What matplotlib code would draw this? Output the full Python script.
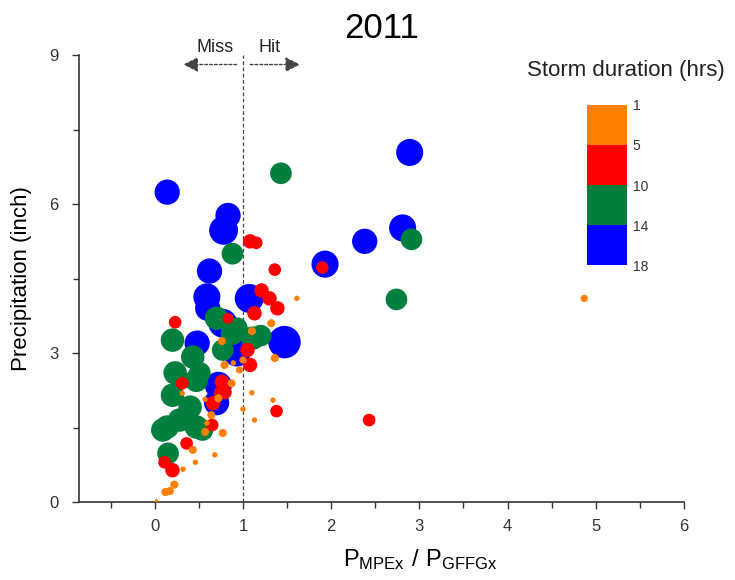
import matplotlib
matplotlib.use("Agg")
import matplotlib.pyplot as plt
import numpy as np
from matplotlib.colors import ListedColormap, BoundaryNorm

plt.rcParams["font.family"] = ["Liberation Sans", "DejaVu Sans"]

# Storm events: ratio P_MPEx / P_GFFGx, precipitation (inch), duration (hrs)
blue_x = [0.14, 2.89, 2.81, 2.38, 1.93, 0.83, 0.78, 0.62, 0.59, 0.60, 1.07,
          0.77, 0.48, 0.93, 0.70, 0.72, 1.47]
blue_y = [6.24, 7.04, 5.52, 5.25, 4.79, 5.77, 5.47, 4.65, 4.13, 3.90, 4.10,
          3.60, 3.20, 3.00, 2.00, 2.35, 3.22]
blue_d = [14, 15, 15, 14, 15, 14, 16, 14, 15, 14, 16, 16, 14, 15, 14, 15, 18]

green_x = [1.43, 2.91, 2.74, 0.88, 0.20, 0.70, 0.88, 1.11, 0.77, 0.93, 0.43,
           0.23, 0.47, 0.51, 0.20, 0.40, 0.14, 0.28, 0.47, 0.54, 0.09, 0.15,
           1.20]
green_y = [6.62, 5.29, 4.08, 5.00, 3.26, 3.70, 3.40, 3.30, 3.06, 3.50, 2.92,
           2.60, 2.45, 2.60, 2.15, 1.91, 1.51, 1.65, 1.51, 1.45, 1.45, 0.98,
           3.35]
green_d = [12, 12, 12, 12, 13, 13, 13, 13, 12, 12, 13, 13, 13, 12, 13, 13, 13,
           13, 13, 12, 13, 12, 12]

red_x = [1.08, 1.15, 1.36, 1.90, 1.21, 1.30, 1.39, 1.13, 0.83, 1.05, 1.08,
         0.76, 0.79, 0.66, 0.65, 1.38, 2.43, 0.23, 0.31, 0.36, 0.11, 0.20,
         0.74]
red_y = [5.25, 5.22, 4.68, 4.72, 4.26, 4.10, 3.90, 3.80, 3.70, 3.06, 2.76,
         2.42, 2.21, 1.99, 1.55, 1.83, 1.65, 3.62, 2.39, 1.18, 0.80, 0.64,
         2.20]
red_d = [8, 7, 7, 7, 8, 8, 8, 8, 6, 8, 8, 8, 8, 8, 7, 7, 7, 7, 7, 7, 7, 8, 7]

orange_x = [4.87, 1.61, 1.32, 1.10, 0.76, 1.36, 1.00, 0.89, 0.79, 0.96, 1.10,
            1.34, 1.00, 1.13, 0.87, 0.72, 0.57, 0.64, 0.59, 0.57, 0.77, 0.43,
            0.68, 0.46, 0.32, 0.22, 0.17, 0.12, 0.02, 0.31]
orange_y = [4.10, 4.10, 3.60, 3.44, 3.24, 2.90, 2.86, 2.80, 2.76, 2.66, 2.20,
            2.05, 1.87, 1.65, 2.39, 2.09, 2.07, 1.75, 1.59, 1.41, 1.39, 1.05,
            0.95, 0.80, 0.66, 0.35, 0.22, 0.20, 0.02, 2.19]
orange_d = [4, 3, 4.5, 4.5, 4.5, 4.5, 4, 3, 4.5, 4, 3, 3, 3, 3, 4.5, 4.5, 3,
            4.5, 3, 4.5, 4.5, 4.5, 3, 3, 3, 4.5, 4.5, 4.5, 2, 3]

duration_bounds = [1, 5, 10, 14, 18]
duration_colors = ["#FF8000", "#FF0000", "#007F3F", "#0000FF"]

cmap = ListedColormap(duration_colors)
norm = BoundaryNorm(duration_bounds, cmap.N)

fig = plt.figure(figsize=(7.35, 5.8), dpi=100)
ax = fig.add_axes([0.1075, 0.1345, 0.823, 0.7705])

x = np.array(blue_x + green_x + red_x + orange_x)
y = np.array(blue_y + green_y + red_y + orange_y)
d = np.array(blue_d + green_d + red_d + orange_d, dtype=float)
size = (1.3 * d) ** 2

sc = ax.scatter(x, y, s=size, c=d, cmap=cmap, norm=norm, edgecolors="none",
                zorder=3)

# Miss / Hit divider
ax.axvline(1, color="#444444", lw=0.9, ls=(0, (3, 2)), zorder=2)
arrow_kw = dict(arrowstyle="-|>,head_length=0.9,head_width=0.45",
                color="#444444", lw=1.0, ls=(0, (2, 1.5)))
ax.annotate("", xy=(0.29, 8.81), xytext=(0.96, 8.81), arrowprops=arrow_kw)
ax.annotate("", xy=(1.68, 8.81), xytext=(1.05, 8.81), arrowprops=arrow_kw)
ax.text(0.68, 8.98, "Miss", ha="center", va="bottom", fontsize=13,
        color="#222222")
ax.text(1.30, 8.98, "Hit", ha="center", va="bottom", fontsize=13,
        color="#222222")

ax.set_xlim(-0.86, 6)
ax.set_ylim(0, 9)
ax.set_xticks(range(0, 7))
ax.set_xticks(np.arange(-0.5, 6, 1), minor=True)
ax.set_yticks([0, 3, 6, 9])
ax.set_yticks([1.5, 4.5, 7.5], minor=True)
ax.tick_params(which="both", direction="out", color="#333333", width=1.0,
               labelsize=12, labelcolor="#333333")
ax.tick_params(which="major", length=5)
ax.tick_params(axis="x", which="major", pad=7)
ax.tick_params(axis="y", which="major", pad=10)
ax.tick_params(which="minor", length=4)
for side in ["top", "right"]:
    ax.spines[side].set_visible(False)
for side in ["left", "bottom"]:
    ax.spines[side].set_color("#333333")
    ax.spines[side].set_linewidth(1.2)

ax.set_ylabel("Precipitation (inch)", fontsize=16)
ax.yaxis.set_label_coords(-0.077, 0.5)
ax.set_xlabel(r"$\mathregular{P_{MPEx}\ /\ P_{GFFGx}}$", fontsize=17)
ax.xaxis.set_label_coords(0.564, -0.102)
ax.set_title("2011", fontsize=25, pad=12)

# Discrete duration colour bar
cax = fig.add_axes([0.799, 0.543, 0.054, 0.276])
cb = fig.colorbar(sc, cax=cax, boundaries=duration_bounds,
                  ticks=duration_bounds, spacing="uniform")
cb.outline.set_visible(False)
cax.invert_yaxis()
cax.tick_params(length=0, labelsize=10, labelcolor="#333333", pad=4)
fig.text(0.852, 0.878, "Storm duration (hrs)", ha="center", va="center",
         fontsize=16, color="#222222")

fig.savefig("out.png", dpi=100)
